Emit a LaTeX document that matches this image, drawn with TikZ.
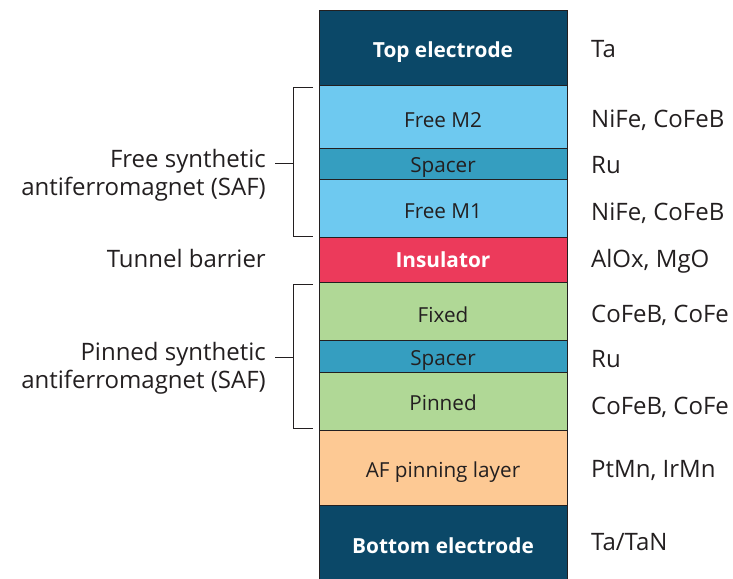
\documentclass[tikz,border=0pt]{standalone}
\usepackage{fontspec}
\setmainfont{Open Sans}
\usetikzlibrary{calc}
\definecolor{navy}{HTML}{0B4868}
\definecolor{lblue}{HTML}{6EC9F0}
\definecolor{teal2}{HTML}{359EC0}
\definecolor{insred}{HTML}{EC3A5B}
\definecolor{lgreen}{HTML}{B0D896}
\definecolor{lorange}{HTML}{FDC994}
\definecolor{txt}{HTML}{231F20}
\tikzset{
  layer/.style={draw=txt, line width=0.9pt, rectangle, anchor=north west, minimum width=248pt, inner sep=0pt, outer sep=0pt, font=\fontsize{20.7}{24}\selectfont, text=txt, text depth=0pt, text height=#1},
  boldlayer/.style={layer=#1, text=white, font=\fontsize{20.8}{24}\selectfont\bfseries},
  rlab/.style={anchor=base west, font=\fontsize{24}{28}\selectfont, text=txt, inner sep=0pt},
  llab/.style={anchor=base east, font=\fontsize{24}{28}\selectfont, text=txt, inner sep=0pt},
  brk/.style={draw=txt, line width=0.9pt}
}
\begin{document}
\begin{tikzpicture}[x=1pt,y=-1pt]
\useasboundingbox (0,0) rectangle (733,578);
\node[boldlayer=21pt, fill=navy, minimum height=75pt] (top) at (319,10) {Top electrode};
\node[layer=21pt, fill=lblue, minimum height=63pt] (fm2) at (319,85) {Free M2};
\node[layer=17pt, fill=teal2, minimum height=31pt] (sp1) at (319,148) {Spacer};
\node[layer=20pt, fill=lblue, minimum height=58pt] (fm1) at (319,179) {Free M1};
\node[boldlayer=15pt, fill=insred, minimum height=45pt] (ins) at (319,237) {Insulator};
\node[layer=22pt, fill=lgreen, minimum height=58pt] (fix) at (319,282) {Fixed};
\node[layer=18pt, fill=teal2, minimum height=32pt] (sp2) at (319,340) {Spacer};
\node[layer=18pt, fill=lgreen, minimum height=58pt] (pin) at (319,372) {Pinned};
\node[layer=19pt, fill=lorange, minimum height=75pt] (af) at (319,430) {AF pinning layer};
\node[boldlayer=16pt, fill=navy, minimum height=80pt] (bot) at (319,505) {Bottom electrode};

\node[rlab] (rtop) at (591,58) {Ta};
\node[rlab] (rfm2) at (591,127) {NiFe, CoFeB};
\node[rlab] (rsp1) at (591,173) {Ru};
\node[rlab] (rfm1) at (591,220) {NiFe, CoFeB};
\node[rlab] (rins) at (591,267) {AlOx, MgO};
\node[rlab] (rfix) at (591,322) {CoFeB, CoFe};
\node[rlab] (rsp2) at (591,367) {Ru};
\node[rlab] (rpin) at (591,414) {CoFeB, CoFe};
\node[rlab] (raf) at (591,477) {PtMn, IrMn};
\node[rlab] (rbot) at (591,550) {Ta/TaN};

\node[llab] (lfree1) at (266,167) {Free synthetic};
\node[llab] (lfree2) at (266,195) {antiferromagnet (SAF)};
\node[llab] (ltun) at (266,267) {Tunnel barrier};
\node[llab] (lpin1) at (266,360) {Pinned synthetic};
\node[llab] (lpin2) at (266,388) {antiferromagnet (SAF)};

\coordinate (b1t) at (313,87);
\coordinate (b1b) at (313,236);
\coordinate (b1m) at (293,163);
\coordinate (b2t) at (313,284);
\coordinate (b2b) at (313,428);
\coordinate (b2m) at (293,357);
\draw[brk] (b1t) -- ++(-20,0) |- (b1b);
\draw[brk] (b1m) -- ++(-18,0);
\draw[brk] (b2t) -- ++(-20,0) |- (b2b);
\draw[brk] (b2m) -- ++(-18,0);
\end{tikzpicture}
\end{document}
